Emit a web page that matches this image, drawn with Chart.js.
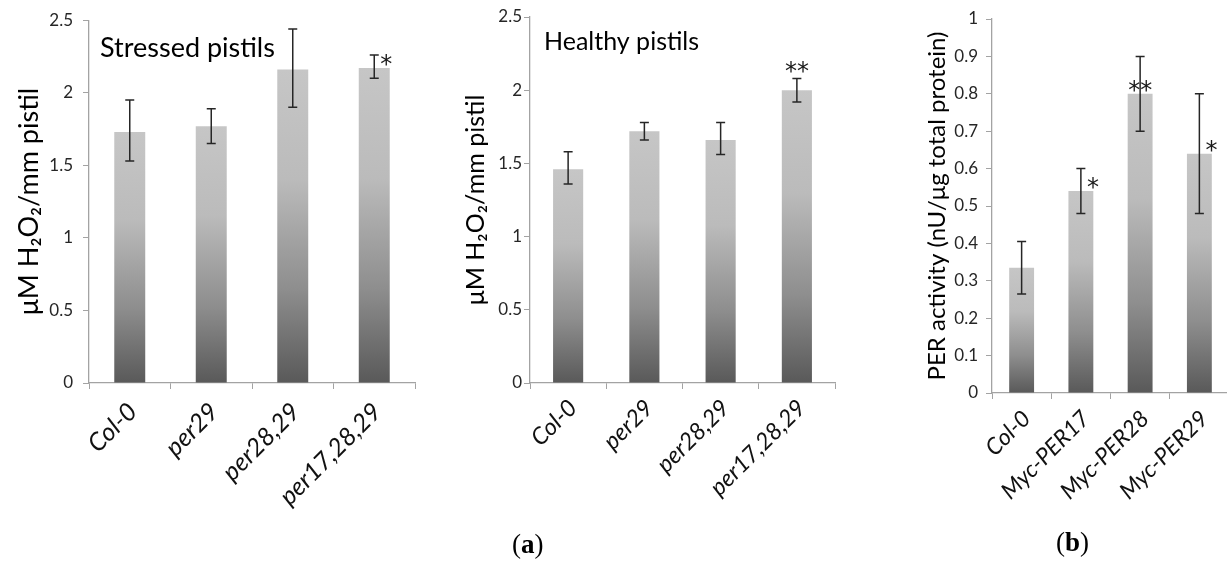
<!DOCTYPE html>
<html>
<head>
<meta charset="utf-8">
<script src="https://cdn.jsdelivr.net/npm/chart.js@4.4.1/dist/chart.umd.min.js"></script>
<style>
  html, body { margin: 0; padding: 0; background: #fff; width: 1227px; height: 562px; overflow: hidden; position: relative; }
  canvas.panel { position: absolute; top: 0; }
  .tag { position: absolute; font-family: "Liberation Serif", "DejaVu Serif", serif; font-size: 27px; color: #000; line-height: 1; }
  .tag b { font-weight: bold; }
</style>
</head>
<body>
<canvas id="stressed" class="panel" style="left:0px" width="420" height="562"></canvas>
<canvas id="healthy" class="panel" style="left:430px" width="410" height="562"></canvas>
<canvas id="activity" class="panel" style="left:880px" width="349" height="562"></canvas>
<div class="tag" style="left:512px; top:531px;">(<b>a</b>)</div>
<div class="tag" style="left:1056px; top:529px;">(<b>b</b>)</div>

<script>
// Genotypes / lines on the x axes
const mutantLabels = ['Col-0', 'per29', 'per28,29', 'per17,28,29'];
const overexpLabels = ['Col-0', 'Myc-PER17', 'Myc-PER28', 'Myc-PER29'];

// (a) H2O2 content, stressed pistils (µM H2O2 / mm pistil)
const stressedMean = [1.73, 1.77, 2.16, 2.17];
const stressedLow  = [1.53, 1.65, 1.90, 2.10];
const stressedHigh = [1.95, 1.89, 2.44, 2.26];
const stressedSig  = ['', '', '', '*'];

// (a) H2O2 content, healthy pistils
const healthyMean = [1.46, 1.72, 1.66, 2.00];
const healthyLow  = [1.36, 1.66, 1.56, 1.92];
const healthyHigh = [1.58, 1.78, 1.78, 2.08];
const healthySig  = ['', '', '', '**'];

// (b) peroxidase activity (nU / µg total protein)
const activityMean = [0.335, 0.54, 0.80, 0.64];
const activityLow  = [0.265, 0.48, 0.70, 0.48];
const activityHigh = [0.405, 0.60, 0.90, 0.80];
const activitySig  = ['', '*', '**', '*'];

// Y-axis tick values
const h2o2Ticks = [0, 0.5, 1, 1.5, 2, 2.5];
const activityTicks = [0, 0.1, 0.2, 0.3, 0.4, 0.5, 0.6, 0.7, 0.8, 0.9, 1];

const FONT = 'Lato, "Open Sans", "DejaVu Sans", sans-serif';
const STAR_FONT = '24px "DejaVu Sans", sans-serif';
const AXIS_GREY = '#a3a3a3';

// Gradient fill per bar: light grey at the top, dark grey at the base
function barGradient(ctx) {
  const chart = ctx.chart;
  if (!chart.chartArea) return '#b0b0b0';
  const y = chart.scales.y;
  const top = y.getPixelForValue(ctx.dataset.data[ctx.dataIndex]);
  const base = y.getPixelForValue(0);
  const g = chart.ctx.createLinearGradient(0, top, 0, base);
  g.addColorStop(0, '#c6c6c6');
  g.addColorStop(0.35, '#bbbbbb');
  g.addColorStop(0.7, '#8e8e8e');
  g.addColorStop(1, '#595959');
  return g;
}

// Draws text so that its ink box is centred on (x, cy)
function fillCentred(c, text, x, cy) {
  const m = c.measureText(text);
  c.textBaseline = 'alphabetic';
  c.textAlign = 'center';
  c.fillText(text, x, cy + (m.actualBoundingBoxAscent - m.actualBoundingBoxDescent) / 2);
}

// Error bars, significance stars and the in-plot caption
const decorations = {
  id: 'decorations',
  afterDatasetsDraw(chart, args, opts) {
    const c = chart.ctx;
    const y = chart.scales.y;
    const meta = chart.getDatasetMeta(0);
    c.save();
    c.strokeStyle = '#262626';
    c.lineWidth = 1.5;
    meta.data.forEach((bar, i) => {
      const hi = y.getPixelForValue(opts.high[i]);
      const lo = y.getPixelForValue(opts.low[i]);
      const cap = 4.5;
      c.beginPath();
      c.moveTo(bar.x, hi); c.lineTo(bar.x, lo);
      c.moveTo(bar.x - cap, hi); c.lineTo(bar.x + cap, hi);
      c.moveTo(bar.x - cap, lo); c.lineTo(bar.x + cap, lo);
      c.stroke();
    });
    c.fillStyle = '#1a1a1a';
    c.font = STAR_FONT;
    meta.data.forEach((bar, i) => {
      const s = opts.sig[i];
      if (!s) return;
      const mode = opts.sigMode[i];
      const top = y.getPixelForValue(chart.data.datasets[0].data[i]);
      if (mode === 'side') {
        fillCentred(c, s, bar.x + 12, top - 8);
      } else if (mode === 'cap') {
        fillCentred(c, s, bar.x, y.getPixelForValue(opts.high[i]) - 11);
      } else {
        fillCentred(c, s, bar.x, top - 8);
      }
    });
    if (opts.caption) {
      c.font = opts.captionSize + 'px ' + FONT;
      c.textAlign = 'left';
      c.textBaseline = 'middle';
      c.fillStyle = '#000';
      c.fillText(opts.caption, chart.chartArea.left + opts.captionDx, chart.chartArea.top + opts.captionDy);
    }
    c.restore();
  }
};

function fmtTick(v) {
  return String(Number(v.toFixed(2)));
}

function makeChart(id, cfg) {
  return new Chart(document.getElementById(id), {
    type: 'bar',
    data: {
      labels: cfg.labels,
      datasets: [{
        data: cfg.mean,
        backgroundColor: barGradient,
        borderWidth: 0,
        categoryPercentage: 1,
        barPercentage: cfg.barPct
      }]
    },
    plugins: [decorations],
    options: {
      responsive: false,
      animation: false,
      events: [],
      layout: { padding: { left: 0, right: cfg.padRight, top: cfg.padTop, bottom: cfg.padBottom } },
      plugins: {
        legend: { display: false },
        tooltip: { enabled: false },
        decorations: {
          low: cfg.low, high: cfg.high, sig: cfg.sig, sigMode: cfg.sigMode,
          caption: cfg.caption, captionSize: cfg.captionSize,
          captionDx: cfg.captionDx, captionDy: cfg.captionDy
        }
      },
      scales: {
        x: {
          grid: { offset: true, drawOnChartArea: false, color: AXIS_GREY, tickLength: 6, lineWidth: 1 },
          border: { color: AXIS_GREY, width: 1.3 },
          ticks: {
            color: '#111',
            font: { family: FONT, size: cfg.xFont, style: 'italic' },
            minRotation: 45, maxRotation: 45, padding: cfg.xPad, labelOffset: cfg.xShift, autoSkip: false
          },
          afterFit(scale) { scale.height = cfg.xHeight; }
        },
        y: {
          min: 0, max: cfg.max,
          afterBuildTicks(scale) { scale.ticks = cfg.ticks.map(v => ({ value: v })); },
          grid: { drawOnChartArea: false, color: AXIS_GREY, tickLength: 6 },
          border: { color: AXIS_GREY, width: 1.3 },
          ticks: {
            color: '#262626',
            font: { family: FONT, size: cfg.yTickFont },
            padding: cfg.yTickPad,
            callback: v => fmtTick(v)
          },
          title: {
            display: true,
            text: cfg.yTitle,
            color: '#000',
            font: { family: FONT, size: cfg.yTitleFont, lineHeight: 1 },
            padding: { top: cfg.yTitlePad, bottom: 0 }
          },
          afterFit(scale) { scale.width = cfg.yWidth; }
        }
      }
    }
  });
}

makeChart('stressed', {
  labels: mutantLabels, mean: stressedMean, low: stressedLow, high: stressedHigh,
  sig: stressedSig, sigMode: ['', '', '', 'side'],
  max: 2.5, ticks: h2o2Ticks, barPct: 0.38,
  padRight: 5, padTop: 17, padBottom: 19, xHeight: 160, xFont: 25, xPad: 8, xShift: 3,
  yWidth: 89, yTickFont: 17, yTickPad: 10,
  yTitle: 'μM H₂O₂/mm pistil', yTitleFont: 27, yTitlePad: 16,
  caption: 'Stressed pistils', captionSize: 27, captionDx: 11, captionDy: 28
});

makeChart('healthy', {
  labels: mutantLabels, mean: healthyMean, low: healthyLow, high: healthyHigh,
  sig: healthySig, sigMode: ['', '', '', 'cap'],
  max: 2.5, ticks: h2o2Ticks, barPct: 0.395,
  padRight: 5, padTop: 17, padBottom: 19, xHeight: 160, xFont: 23.5, xPad: 5, xShift: 5,
  yWidth: 100, yTickFont: 17, yTickPad: 2,
  yTitle: 'μM H₂O₂/mm pistil', yTitleFont: 25, yTitlePad: 33,
  caption: 'Healthy pistils', captionSize: 25, captionDx: 14, captionDy: 25
});

makeChart('activity', {
  labels: overexpLabels, mean: activityMean, low: activityLow, high: activityHigh,
  sig: activitySig, sigMode: ['', 'side', 'top', 'side'],
  max: 1, ticks: activityTicks, barPct: 0.42,
  padRight: 0, padTop: 19, padBottom: 19, xHeight: 150, xFont: 23, xPad: 6, xShift: 5,
  yWidth: 112, yTickFont: 17, yTickPad: 8,
  yTitle: 'PER activity (nU/μg total protein)', yTitleFont: 24, yTitlePad: 45,
  caption: '', captionSize: 0, captionDx: 0, captionDy: 0
});
</script>
</body>
</html>
